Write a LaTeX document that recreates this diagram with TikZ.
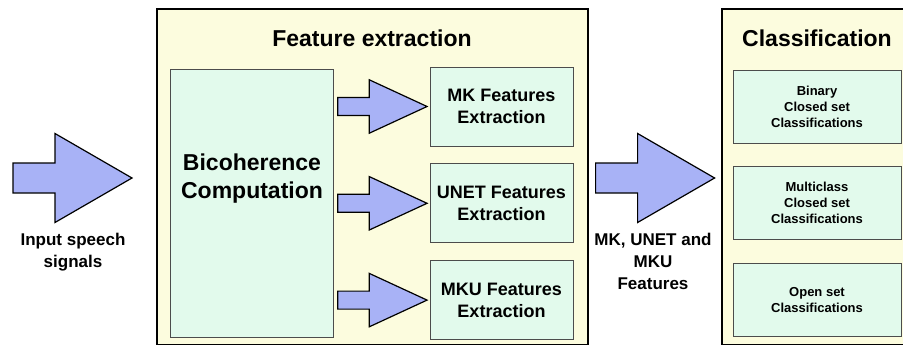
\documentclass[tikz,border=0pt]{standalone}
\usepackage{fontspec}
\setmainfont{Liberation Sans}
\usetikzlibrary{calc, positioning}

\definecolor{panelyellow}{RGB}{252,252,222}
\definecolor{boxgreen}{RGB}{226,250,236}
\definecolor{arrowblue}{RGB}{168,178,246}

\newcommand{\titlesize}{\fontsize{23}{27}\selectfont}
\newcommand{\bigsize}{\fontsize{23}{28}\selectfont}
\newcommand{\boxsize}{\fontsize{18}{22}\selectfont}
\newcommand{\labelsize}{\fontsize{17}{22}\selectfont}
\newcommand{\smallsize}{\fontsize{13}{16}\selectfont}

\tikzset{
    panel/.style={draw=black, line width=1.6pt, fill=panelyellow, anchor=north west, inner sep=0pt},
    stage/.style={draw=black!70, line width=0.8pt, fill=boxgreen, align=center, inner sep=0pt},
    fat arrow/.pic={
        \draw[line width=1.2pt, fill=arrowblue, line join=miter]
            (0,-15) -- (42,-15) -- (42,-44.5) -- (119,0) -- (42,44.5) -- (42,15) -- (0,15) -- cycle;
    }
}

\begin{document}
\begin{tikzpicture}[x=1pt, y=-1pt, font=\bfseries]

    \clip (0,0) rectangle (903,345);

    % 1. Paineis de fundo
    \node[panel, minimum width=431pt, minimum height=336pt] (fe) at (156,8) {};
    \node[panel, minimum width=200pt, minimum height=336pt] (cl) at (721,8) {};

    \node[font=\bfseries\titlesize] (fetitle) at (372,38) {Feature extraction};
    \node[font=\bfseries\titlesize] (cltitle) at (817,38) {Classification};

    % 2. Bloco de bicoerencia
    \node[stage, minimum width=163pt, minimum height=268pt, anchor=north west] (bico) at (170,69) {};
    \node[font=\bfseries\bigsize, align=center] (bicotext) at (252,179) {Bicoherence\\Computation};

    % 3. Blocos de extracao
    \node[stage, font=\bfseries\boxsize, minimum width=143pt, minimum height=79pt] (mk) at (501.5,106.5) {MK Features\\Extraction};
    \node[stage, font=\bfseries\boxsize, minimum width=143pt, minimum height=79pt, below=17pt of mk] (unet) {UNET Features\\Extraction};
    \node[stage, font=\bfseries\boxsize, minimum width=143pt, minimum height=79pt, below=17pt of unet] (mku) {MKU Features\\Extraction};

    % 4. Blocos de classificacao
    \node[stage, font=\bfseries\smallsize, minimum width=168pt, minimum height=73pt] (binary) at (817,106.5) {Binary\\Closed set\\Classifications};
    \node[stage, font=\bfseries\smallsize, minimum width=168pt, minimum height=73pt, below=23pt of binary] (multi) {Multiclass\\Closed set\\Classifications};
    \node[stage, font=\bfseries\smallsize, minimum width=168pt, minimum height=73pt, below=23pt of multi] (open) {Open set\\Classifications};

    % 5. Setas largas
    \coordinate (in) at (13,178);
    \coordinate (mid) at ($(fe.east |- in)+(7,0)$);
    \pic at (in) {fat arrow};
    \pic at (mid) {fat arrow};
    \pic[xscale=0.75, yscale=0.6] at ($(bico.east |- mk.west)+(4,0)$) {fat arrow};
    \pic[xscale=0.75, yscale=0.6] at ($(bico.east |- unet.west)+(4,0)$) {fat arrow};
    \pic[xscale=0.75, yscale=0.6] at ($(bico.east |- mku.west)+(4,0)$) {fat arrow};

    % 6. Rotulos das setas
    \node[font=\bfseries\labelsize, align=center] (inlabel) at (73,252) {Input speech\\signals};
    \node[font=\bfseries\labelsize, align=center] (featlabel) at (653,261) {MK, UNET and\\MKU\\Features};

\end{tikzpicture}
\end{document}
